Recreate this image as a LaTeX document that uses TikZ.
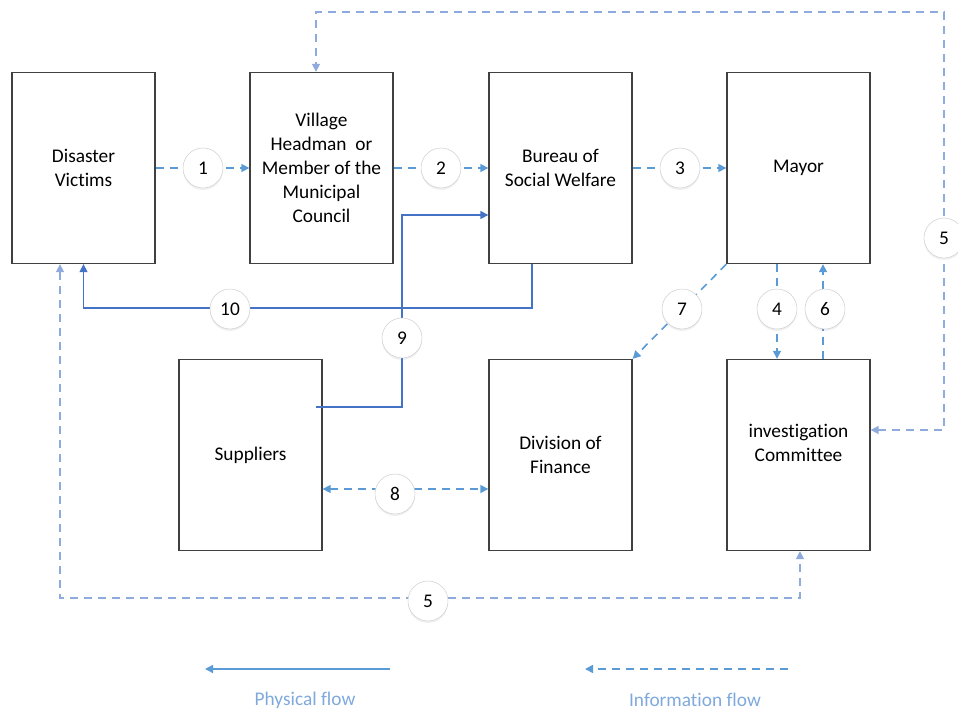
\documentclass[tikz,border=0pt]{standalone}
\usepackage{fontspec}
\setmainfont[Ligatures=NoCommon]{Carlito}
\usetikzlibrary{arrows.meta,shadows}

\definecolor{boxline}{HTML}{404040}
\definecolor{infoblue}{HTML}{5B9BD5}
\definecolor{physblue}{HTML}{4472C4}
\definecolor{loopblue}{HTML}{8FAADC}
\definecolor{ringgray}{HTML}{D0D0D0}
\definecolor{legendtext}{HTML}{7FA9DD}

\tikzset{
  stagebox/.style={draw=boxline, line width=1pt, fill=white,
    minimum width=107.25pt, minimum height=143.25pt, align=center,
    font=\fontsize{14.5}{18}\selectfont},
  stepnum/.style={circle, draw=ringgray, fill=white, minimum size=30pt,
    inner sep=0pt, font=\fontsize{14.5}{18}\selectfont,
    drop shadow={opacity=0.12, shadow xshift=0pt, shadow yshift=-1.5pt}},
  infoflow/.style={draw=infoblue, line width=1.2pt, dash pattern=on 6pt off 4.5pt,
    -{Triangle[length=6pt,width=6pt]}},
  infoboth/.style={draw=loopblue, line width=1.2pt, dash pattern=on 6pt off 4.5pt,
    {Triangle[length=6pt,width=6pt]}-{Triangle[length=6pt,width=6pt]}},
  physflow/.style={draw=physblue, line width=1pt,
    -{Triangle[length=6pt,width=6pt]}},
  legendlabel/.style={text=legendtext, font=\fontsize{14.5}{18}\selectfont}
}

\begin{document}
\begin{tikzpicture}[x=0.75pt,y=-0.75pt]

\useasboundingbox (0,0) rectangle (958,713);

% Stages
\node[stagebox] (victims) at (83.5,168) {Disaster\\Victims};
\node[stagebox] (headman) at (321.5,168) {Village\\Headman~ or\\Member of the\\Municipal\\Council};
\node[stagebox] (bureau) at (560.5,168) {Bureau of\\Social Welfare};
\node[stagebox] (mayor) at (798.5,168) {Mayor};
\node[stagebox] (suppliers) at (250.5,455) {Suppliers};
\node[stagebox] (finance) at (560.5,455) {Division of\\Finance};
\node[stagebox] (committee) at (798.5,455) {investigation\\Committee\\\mbox{}};

% Bend points
\coordinate (topleft) at (316,12);
\coordinate (topright) at (944,12);
\coordinate (sidedown) at (944,430);
\coordinate (botleft) at (60,598);
\coordinate (botright) at (800,598);
\coordinate (tenright) at (532,308);
\coordinate (tenleft) at (83.5,308);
\coordinate (supout) at (316,407);
\coordinate (ninelow) at (402,407);
\coordinate (ninehigh) at (402,215);
\coordinate (fourx) at (777,0);
\coordinate (sixx) at (823,0);
\coordinate (eighty) at (0,489);

% Information flow
\draw[infoflow] (victims.east) -- (headman.west);
\draw[infoflow] (headman.east) -- (bureau.west);
\draw[infoflow] (bureau.east) -- (mayor.west);
\draw[infoflow] (mayor.south west) -- (finance.north east);
\draw[infoflow] (mayor.south -| fourx) -- (committee.north -| fourx);
\draw[infoflow] (committee.north -| sixx) -- (mayor.south -| sixx);
\draw[infoflow, {Triangle[length=6pt,width=6pt]}-{Triangle[length=6pt,width=6pt]}]
  (suppliers.east |- eighty) -- (finance.west |- eighty);
\draw[infoboth] (committee.east |- sidedown) -- (sidedown) -- (topright)
  -- (topleft) -- (headman.north -| topleft);
\draw[infoboth] (victims.south -| botleft) -- (botleft) -- (botright)
  -- (committee.south -| botright);

% Physical flow
\draw[physflow] (bureau.south -| tenright) -- (tenright) -- (tenleft) -- (victims.south);
\draw[physflow] (supout) -- (ninelow) -- (ninehigh) -- (bureau.west |- ninehigh);

% Step numbers
\node[stepnum] (n1) at (203,168) {1};
\node[stepnum] (n2) at (441,168) {2};
\node[stepnum] (n3) at (680,168) {3};
\node[stepnum] (n4) at (777,309) {4};
\node[stepnum] (n5top) at (944,238) {5};
\node[stepnum] (n6) at (825,309) {6};
\node[stepnum] (n7) at (682,309) {7};
\node[stepnum] (n8) at (395,494) {8};
\node[stepnum] (n9) at (402,338) {9};
\node[stepnum] (n10) at (230,309) {10};
\node[stepnum] (n5bot) at (428,601) {5};

% Legend
\coordinate (physstart) at (390,669);
\coordinate (physend) at (205,669);
\coordinate (infostart) at (788,669);
\coordinate (infoend) at (585,669);
\draw[physflow, draw=infoblue] (physstart) -- (physend);
\draw[infoflow] (infostart) -- (infoend);
\node[legendlabel] (physlabel) at (305,700) {Physical flow};
\node[legendlabel] (infolabel) at (695,700) {Information flow};

\end{tikzpicture}
\end{document}
